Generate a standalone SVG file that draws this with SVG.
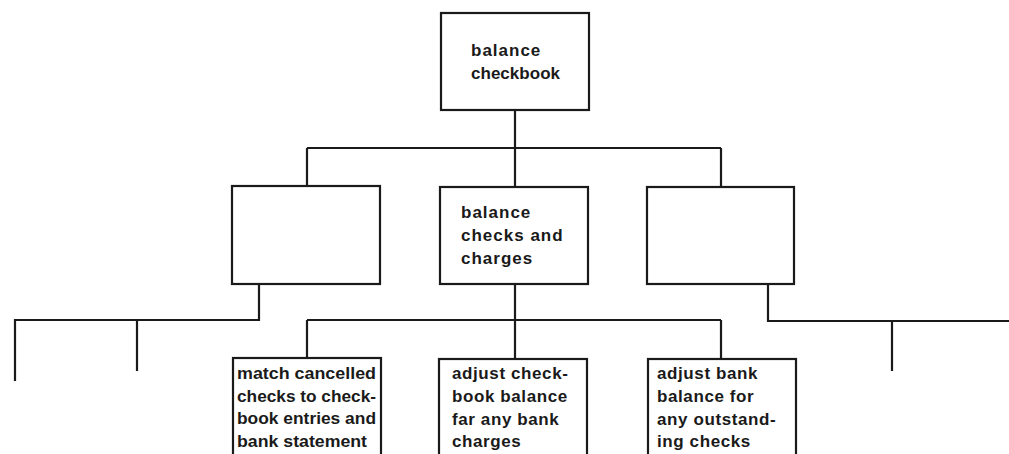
<svg xmlns="http://www.w3.org/2000/svg" width="1009" height="454" viewBox="0 0 1009 454">
<style>
.box{fill:#fff;stroke:#1a1a1a;stroke-width:2.2}
.ln{fill:none;stroke:#1a1a1a;stroke-width:2.2}
text{font-family:"Liberation Sans",Arial,sans-serif;font-weight:bold;font-size:17px;fill:#1a1a1a}
.t1{letter-spacing:1px}
.t2{letter-spacing:0.6px}
</style>
<rect width="1009" height="454" fill="#fff"/>
<g id="connectors">
<path class="ln" d="M515 110V148M307 148H721M307 148V186M515 148V187M721 148V187"/>
<path class="ln" d="M259 284V320H15V381M137 320V371"/>
<path class="ln" d="M515 284V358M307 320H721M307 320V358M721 320V359"/>
<path class="ln" d="M768 284V321H1009M892 321V371"/>
</g>
<g id="n-top">
<rect class="box" x="441" y="13" width="148" height="97"/>
<text class="t1" x="471" y="56">balance</text>
<text class="t1" x="471" y="79" textLength="90">checkbook</text>
</g>
<g id="n-left">
<rect class="box" x="232" y="186" width="148" height="98"/>
</g>
<g id="n-mid">
<rect class="box" x="440" y="187" width="148" height="97"/>
<text class="t1" x="461" y="218">balance</text>
<text class="t1" x="461" y="241">checks and</text>
<text class="t1" x="461" y="264">charges</text>
</g>
<g id="n-right">
<rect class="box" x="647" y="187" width="147" height="97"/>
</g>
<g id="n-match">
<rect class="box" x="233" y="358" width="148" height="110"/>
<text x="237" y="379" textLength="139" lengthAdjust="spacingAndGlyphs">match cancelled</text>
<text x="237" y="402" textLength="139" lengthAdjust="spacingAndGlyphs">checks to check-</text>
<text x="237" y="424" textLength="139" lengthAdjust="spacingAndGlyphs">book entries and</text>
<text x="237" y="447" textLength="130" lengthAdjust="spacingAndGlyphs">bank statement</text>
</g>
<g id="n-adjcheck">
<rect class="box" x="439" y="359" width="148" height="110"/>
<text class="t2" x="452" y="379">adjust check-</text>
<text class="t2" x="452" y="402">book balance</text>
<text class="t2" x="452" y="425">far any bank</text>
<text class="t2" x="452" y="447">charges</text>
</g>
<g id="n-adjbank">
<rect class="box" x="648" y="359" width="148" height="110"/>
<text class="t2" x="657" y="379">adjust bank</text>
<text class="t2" x="657" y="402">balance for</text>
<text class="t2" x="657" y="425">any outstand-</text>
<text class="t2" x="657" y="447">ing checks</text>
</g>
</svg>
